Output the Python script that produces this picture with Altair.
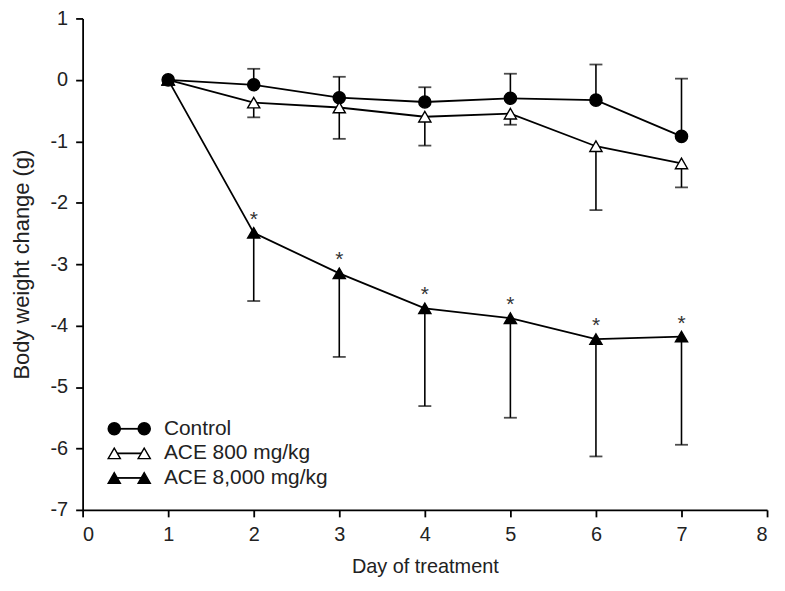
import altair as alt
import pandas as pd

days = [1, 2, 3, 4, 5, 6, 7]
series_names = ["Control", "ACE 800 mg/kg", "ACE 8,000 mg/kg"]

control_mean = [0.0, -0.08, -0.29, -0.36, -0.30, -0.33, -0.92]
control_err = [0.0, 0.18, 0.05, -0.12, 0.10, 0.25, 0.02]      # upper bar end

ace800_mean = [0.0, -0.37, -0.45, -0.60, -0.55, -1.08, -1.36]
ace800_err = [0.0, -0.61, -0.96, -1.07, -0.73, -2.12, -1.75]  # lower bar end

ace8000_mean = [0.0, -2.49, -3.15, -3.72, -3.88, -4.22, -4.18]
ace8000_err = [0.0, -3.60, -4.51, -5.31, -5.50, -6.13, -5.94]  # lower bar end

signif_days = [2, 3, 4, 5, 6, 7]

# legend rows (data-space anchors)
legend_y = [-5.68, -6.08, -6.48]
legend_x1 = [0.37, 0.37, 0.37]
legend_x2 = [0.72, 0.72, 0.72]
legend_tx = [0.95, 0.95, 0.95]

rows = []
for name, m, e in zip(series_names,
                      [control_mean, ace800_mean, ace8000_mean],
                      [control_err, ace800_err, ace8000_err]):
    for d, mv, ev in zip(days, m, e):
        rows.append({"series": name, "day": d, "mean": mv, "err": ev})
df = pd.DataFrame(rows)
df_err = df[df["day"] > 1]

sig = df[(df["series"] == "ACE 8,000 mg/kg") & (df["day"].isin(signif_days))]

leg_rows = []
for name, y, x1, x2, tx in zip(series_names, legend_y, legend_x1, legend_x2, legend_tx):
    leg_rows.append({"series": name, "y": y, "x": x1, "x2": x2, "tx": tx})
leg = pd.DataFrame(leg_rows)
leg_pts = pd.concat([leg.assign(px=leg["x"]), leg.assign(px=leg["x2"])])

FONT = "Liberation Sans"

x_scale = alt.Scale(domain=[0, 8], nice=False, zero=False)
y_scale = alt.Scale(domain=[-7, 1], nice=False, zero=False)

shape_scale = alt.Scale(domain=series_names, range=["circle", "triangle-up", "triangle-up"])
fill_scale = alt.Scale(domain=series_names, range=["black", "white", "black"])

x_enc = alt.X("day:Q", scale=x_scale,
              axis=alt.Axis(title="Day of treatment", values=list(range(0, 9)),
                            labelExpr="'' + datum.value", grid=False,
                            titleFontSize=20, titlePadding=12))
y_enc = alt.Y("mean:Q", scale=y_scale,
              axis=alt.Axis(title="Body weight change (g)", values=list(range(-7, 2)),
                            labelExpr="'' + datum.value", grid=False,
                            titleFontSize=22, titlePadding=17))

base = alt.Chart(df)

lines = base.mark_line(color="black", strokeWidth=1.8).encode(
    x=x_enc, y=y_enc, detail="series:N")

bars = alt.Chart(df_err).mark_rule(color="black", strokeWidth=1.6).encode(
    x="day:Q", y="mean:Q", y2="err:Q")

caps = alt.Chart(df_err).mark_tick(color="black", thickness=1.8, size=13, orient="horizontal").encode(
    x="day:Q", y="err:Q")

points = base.mark_point(size=150, opacity=1, stroke="black", strokeWidth=1.4, filled=False).encode(
    x="day:Q", y="mean:Q",
    shape=alt.Shape("series:N", scale=shape_scale, legend=None),
    fill=alt.Fill("series:N", scale=fill_scale, legend=None))

stars = alt.Chart(sig).mark_text(text="*", font=FONT, fontSize=21, dy=-13, color="#333").encode(
    x="day:Q", y="mean:Q")

leg_lines = alt.Chart(leg).mark_rule(color="black", strokeWidth=1.8).encode(
    x="x:Q", x2="x2:Q", y="y:Q")

leg_points = alt.Chart(leg_pts).mark_point(size=150, opacity=1, stroke="black", strokeWidth=1.4,
                                           filled=False).encode(
    x="px:Q", y="y:Q",
    shape=alt.Shape("series:N", scale=shape_scale, legend=None),
    fill=alt.Fill("series:N", scale=fill_scale, legend=None))

leg_text = alt.Chart(leg).mark_text(align="left", baseline="middle", font=FONT, fontSize=21,
                                    color="#222").encode(
    x="tx:Q", y="y:Q", text="series:N")

chart = alt.layer(lines, bars, caps, points, stars, leg_lines, leg_points, leg_text).properties(
    width=688, height=494,
    padding={"left": 75, "top": 9, "right": 10, "bottom": 72},
    autosize=alt.AutoSizeParams(type="none"),
).configure_view(stroke=None).configure_axis(
    domainColor="black", domainWidth=1.8, tickColor="black", tickWidth=1.8, tickSize=7,
    labelFont=FONT, labelFontSize=20, labelColor="#222", labelPadding=8,
    titleFont=FONT, titleColor="#222", titleFontWeight="normal",
)

chart.save("out.html", embed_options={"renderer": "svg", "actions": False})
